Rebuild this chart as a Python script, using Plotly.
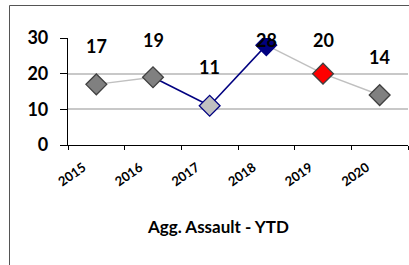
import plotly.graph_objects as go

years = ["2015", "2016", "2017", "2018", "2019", "2020"]
values = [17, 19, 11, 28, 20, 14]
marker_fill = ["#808080", "#808080", "#c0c0c0", "#000080", "#ff0000", "#808080"]
marker_edge = ["#404040", "#404040", "#000080", "#000080", "#404040", "#404040"]
segment_colors = ["#c0c0c0", "#000080", "#000080", "#c0c0c0", "#c0c0c0"]
y_ticks = [0, 10, 20, 30]

W, H = 409, 265
L, R, T, B = 68, 1, 38, 120
pw = W - L - R
ph = H - T - B
fig = go.Figure()

for i, c in enumerate(segment_colors):
    fig.add_trace(go.Scatter(x=years[i:i + 2], y=values[i:i + 2], mode="lines",
                             line=dict(color=c, width=1.5), hoverinfo="skip", showlegend=False))

fig.add_trace(go.Scatter(x=years, y=values, mode="markers",
                         marker=dict(symbol="diamond", size=16, color=marker_fill,
                                     line=dict(color=marker_edge, width=1.3)),
                         showlegend=False))

for i, v in enumerate(values):
    fig.add_annotation(x=i, y=min(v + 10.8, 29.5), xref="x", yref="y", text="<b>%d</b>" % v,
                       showarrow=False, xanchor="center", yanchor="middle",
                       font=dict(family="Lato", size=18, color="black"))

fig.add_shape(type="rect", xref="paper", yref="paper",
              x0=(9.5 - L) / pw, x1=(W + 5 - L) / pw,
              y0=(T + ph - (H + 5)) / ph, y1=(T + ph - 5.5) / ph,
              line=dict(color="#555555", width=1), layer="below")

fig.add_annotation(xref="paper", yref="paper", x=(218 - L) / pw, y=(T + ph - 227) / ph,
                   xanchor="center", yanchor="middle",
                   text="<b>Agg. Assault - YTD</b>", showarrow=False,
                   font=dict(family="Lato", size=17, color="black"))

fig.update_xaxes(type="category", showline=True, linecolor="black", linewidth=1.2,
                 ticks="outside", ticklen=4, tickcolor="black", tickson="boundaries",
                 tickangle=-35, showgrid=False, automargin=False,
                 ticklabelshift=-13, ticklabelstandoff=9,
                 tickfont=dict(family="Lato", size=13, color="black", weight="bold"),
                 range=[-0.5, 5.5])
fig.update_yaxes(range=[0, 30], tickvals=y_ticks, showline=True, linecolor="black", linewidth=1.2,
                 ticks="outside", ticklen=7, tickcolor="black", automargin=False,
                 ticklabelstandoff=8,
                 showgrid=True, gridcolor="#c8c8c8", gridwidth=1.5, zeroline=False,
                 tickfont=dict(family="Lato", size=18, color="black", weight="bold"))

fig.update_layout(width=W, height=H, margin=dict(l=L, r=R, t=T, b=B),
                  plot_bgcolor="white", paper_bgcolor="white", showlegend=False)

fig.write_html("out.html", config={"displayModeBar": False},
               post_script="document.body.style.margin='0';")
